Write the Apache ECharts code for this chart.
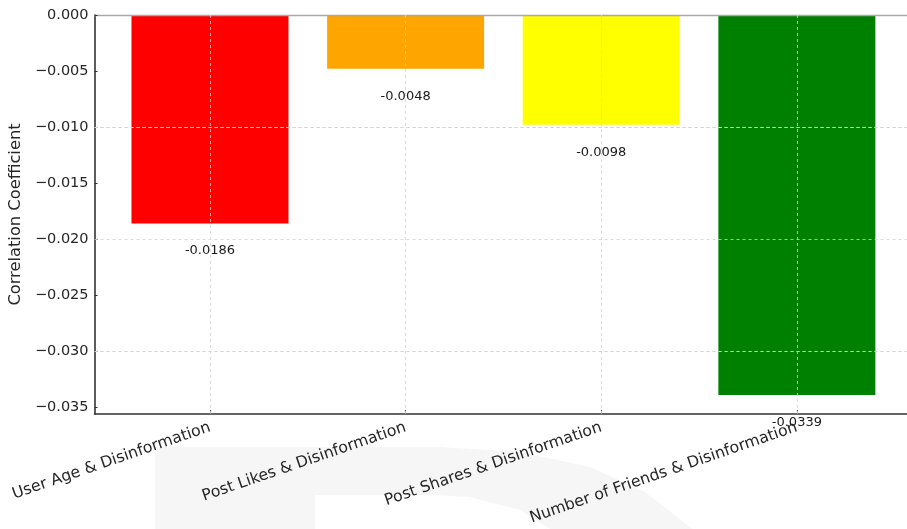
<!DOCTYPE html>
<html>
<head>
<meta charset="utf-8">
<script src="https://cdn.jsdelivr.net/npm/echarts@6/dist/echarts.min.js"></script>
<style>html,body{margin:0;padding:0;background:#fff}#c{width:907px;height:529px}</style>
</head>
<body>
<div id="c"></div>
<script>
const categories = ['User Age & Disinformation', 'Post Likes & Disinformation', 'Post Shares & Disinformation', 'Number of Friends & Disinformation'];
const values = [-0.0186, -0.0048, -0.0098, -0.0339];
const barColors = ['#ff0000', '#ffa500', '#ffff00', '#008000'];
const yTicks = [0, -0.005, -0.010, -0.015, -0.020, -0.025, -0.030, -0.035];
const yTickLabels = ['0.000', '\u22120.005', '\u22120.010', '\u22120.015', '\u22120.020', '\u22120.025', '\u22120.030', '\u22120.035'];
const xTicks = [0, 1, 2, 3];

const chart = echarts.init(document.getElementById('c'), null, {renderer: 'canvas'});
const font = 'DejaVu Sans';
const gridLine = {color: '#d3d3d3', type: [3, 3], width: 0.8};

const option = {
  animation: false,
  backgroundColor: '#ffffff',
  textStyle: {fontFamily: font},
  graphic: [
    {type: 'rect', z: -10, silent: true, shape: {x: 155, y: 447, width: 160, height: 90}, style: {fill: '#f6f6f6'}},
    {type: 'polygon', z: -10, silent: true, shape: {points: [[315,447],[440,447],[520,452],[590,467],[645,492],[700,535],[560,535],[520,510],[470,497],[430,495],[315,495]]}, style: {fill: '#f6f6f6'}}
  ],
  grid: {left: 93, right: 0, top: 15, bottom: 115, containLabel: false},
  xAxis: [{
    type: 'value', min: -0.59, max: 3.563, position: 'bottom', z: 3,
    splitLine: {show: false},
    axisLine: {show: true, onZero: false, lineStyle: {color: '#333333', width: 1.6}},
    axisTick: {show: true, inside: true, length: 4, customValues: xTicks, lineStyle: {color: '#333333'}},
    axisLabel: {
      customValues: xTicks, rotate: 19, margin: 13, fontSize: 15.7, color: '#262626', fontFamily: font,
      formatter: v => categories[Math.round(v)]
    }
  }, {
    type: 'value', min: -0.59, max: 3.563, position: 'top', z: 3,
    splitLine: {show: false}, axisTick: {show: false}, axisLabel: {show: false},
    axisLine: {show: true, onZero: false, lineStyle: {color: '#a8a8a8', width: 1.4}}
  }],
  yAxis: {
    type: 'value', min: -0.0356, max: 0, z: 3,
    name: 'Correlation Coefficient', nameLocation: 'middle', nameRotate: 90, nameGap: 64,
    nameTextStyle: {fontSize: 16.3, color: '#262626', fontFamily: font},
    splitLine: {show: false},
    axisLine: {show: true, onZero: false, lineStyle: {color: '#333333', width: 1.6}},
    axisTick: {show: true, inside: true, length: 3, customValues: yTicks, lineStyle: {color: '#333333'}},
    axisLabel: {
      customValues: yTicks, margin: 6, fontSize: 14.5, color: '#262626', fontFamily: font,
      formatter: v => { const i = yTicks.findIndex(t => Math.abs(t - v) < 1e-9); return i >= 0 ? yTickLabels[i] : ''; }
    }
  },
  series: [{
    type: 'bar',
    barWidth: 157,
    data: values.map((v, i) => ({value: [i, v], itemStyle: {color: barColors[i]}})),
    label: {
      show: true, position: 'bottom', distance: 21, fontSize: 13, color: '#1a1a1a', fontFamily: font,
      formatter: p => String(values[p.dataIndex])
    },
    markLine: {
      silent: true, symbol: 'none', label: {show: false}, lineStyle: gridLine, animation: false,
      data: yTicks.slice(1).map(t => ({yAxis: t})).concat(xTicks.map(t => ({xAxis: t})))
    }
  }]
};
chart.setOption(option);
</script>
</body>
</html>
